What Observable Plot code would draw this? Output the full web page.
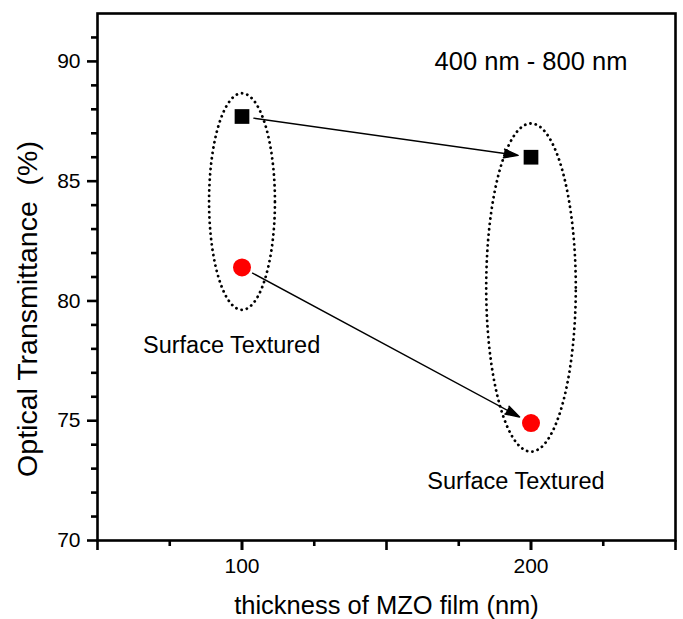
<!DOCTYPE html>
<html><head><meta charset="utf-8">
<script src="https://cdn.jsdelivr.net/npm/d3@7"></script>
<script src="https://cdn.jsdelivr.net/npm/@observablehq/plot@0.6"></script>
<style>
body{margin:0;background:#fff}
</style>
</head><body><div id="chart"></div>
<script>
// data
const thickness = [100, 200];              // nm
const transNormal = [87.7, 86.0];          // squares (%)
const transTextured = [81.4, 74.9];        // circles (%)
// tick labels
const xMajorTicks = [50, 100, 150, 200, 250];
const xLabelTicks = [100, 200];
const xMinorTicks = [75, 125, 175, 225];
const yMajorTicks = [70, 75, 80, 85, 90];
const yMinorTicks = [71, 72, 73, 74, 76, 77, 78, 79, 81, 82, 83, 84, 86, 87, 88, 89, 91];
// annotations
const annoText = ["400 nm - 800 nm", "Surface Textured", "Surface Textured"];
const annoX = [200, 96.4, 194.8];
const annoY = [90, 78.15, 72.45];
const annoSize = [25.5, 23.5, 23.5];
// dotted ellipses (center x, center y, radius x, radius y in data units)
const ellCX = [100, 200];
const ellCY = [84.15, 80.56];
const ellRX = [11.4, 15.5];
const ellRY = [4.52, 6.85];

const squares = thickness.map((x, i) => ({x, y: transNormal[i]}));
const circles = thickness.map((x, i) => ({x, y: transTextured[i]}));
const arrows = [
  {x1: thickness[0], y1: transNormal[0], x2: thickness[1], y2: transNormal[1]},
  {x1: thickness[0], y1: transTextured[0], x2: thickness[1], y2: transTextured[1]}
];
const angles = d3.range(0, 361, 2);
const ellipses = ellCX.flatMap((cx, k) => angles.map(a => ({
  k, x: cx + ellRX[k] * Math.cos(a * Math.PI / 180), y: ellCY[k] + ellRY[k] * Math.sin(a * Math.PI / 180)
})));
const annos = annoText.map((t, i) => ({t, x: annoX[i], y: annoY[i], s: annoSize[i]}));

const font = "'Liberation Sans', Arial, sans-serif";
const chart = Plot.plot({
  width: 683, height: 619,
  marginLeft: 97, marginRight: 8, marginTop: 13, marginBottom: 79,
  x: {domain: [50, 250]},
  y: {domain: [70, 92]},
  style: {fontFamily: font, fontSize: "20px", color: "black", background: "white", overflow: "visible"},
  marks: [
    Plot.line(ellipses, {x: "x", y: "y", z: "k", stroke: "black", strokeWidth: 2.8,
      strokeDasharray: "0.1,5.3", strokeLinecap: "round"}),
    Plot.arrow(arrows, {x1: "x1", y1: "y1", x2: "x2", y2: "y2", insetStart: 12, insetEnd: 13,
      headLength: 16, headAngle: 34, stroke: "black", fill: "black", strokeWidth: 1.4}),
    Plot.dot(squares, {x: "x", y: "y", symbol: "square", r: 8.3, fill: "black"}),
    Plot.dot(circles, {x: "x", y: "y", r: 9, fill: "#ff0000"}),
    ...annos.map(d => Plot.text([d], {x: "x", y: "y", text: "t", fontSize: d.s, fill: "black"})),
    Plot.axisY({ticks: yMajorTicks, tickSize: 10, tickPadding: 7, fontSize: 21, label: null, strokeWidth: 2.6}),
    Plot.axisY({ticks: yMinorTicks, tickSize: 6, text: null, label: null, strokeWidth: 2.6}),
    Plot.axisX({ticks: xMajorTicks, tickSize: 10, text: null, label: null, strokeWidth: 2.6}),
    Plot.axisX({ticks: xLabelTicks, tickSize: 10, tickPadding: 8, fontSize: 21, label: null, strokeWidth: 2.6}),
    Plot.axisX({ticks: xMinorTicks, tickSize: 6, text: null, label: null, strokeWidth: 2.6}),
    Plot.frame({stroke: "black", strokeWidth: 2.6}),
    Plot.text(["Optical Transmittance  (%)"], {frameAnchor: "left", textAnchor: "middle", lineAnchor: "middle",
      rotate: -90, dx: -70, dy: 32, fontSize: 28.5, fill: "black"}),
    Plot.text(["thickness of MZO film (nm)"], {frameAnchor: "bottom", textAnchor: "middle", lineAnchor: "middle",
      dy: 65, fontSize: 25.5, fill: "black"})
  ]
});
document.getElementById("chart").appendChild(chart);
</script>
</body></html>
